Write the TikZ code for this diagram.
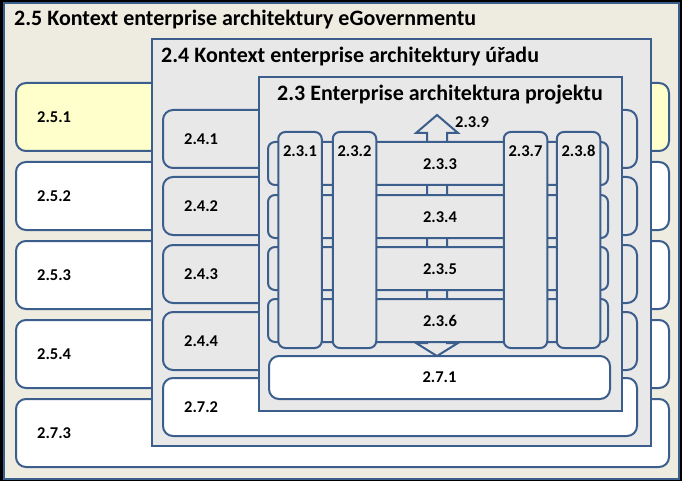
\documentclass[tikz,border=0pt]{standalone}
\usepackage{fontspec}
\setmainfont{Carlito}
\definecolor{bl}{HTML}{3B5E8C}
\definecolor{beige}{HTML}{EEECE1}
\definecolor{gr}{HTML}{E8E8E8}
\definecolor{yel}{HTML}{FFFFCC}
\begin{document}
\begin{tikzpicture}[x=1pt,y=-1pt,
  frame/.style={draw=bl,line width=2pt,inner sep=0pt,outer sep=0pt},
  rbox/.style={frame,rounded corners=10pt},
  bbox/.style={frame,rounded corners=7pt,fill=gr},
  ttl/.style={font=\bfseries\fontsize{22}{24}\selectfont,anchor=west,inner sep=0pt},
  lbl/.style={font=\bfseries\fontsize{16.5}{18}\selectfont,inner sep=0pt}]
\fill[black] (0,0) rectangle (682,481);
\useasboundingbox (0,0) rectangle (682,481);
\node[frame,fill=beige,minimum width=675pt,minimum height=476pt] (outer) at (341.5,241) {};
\node[ttl] (t25) at (14,20) {2.5 Kontext enterprise architektury eGovernmentu};
% 2.5 rows
\foreach \n/\t/\c in {r251/83/yel,r252/162/white,r253/241/white,r254/320/white,r273/399/white}
  \node[rbox,fill=\c,minimum width=653pt,minimum height=68pt] (\n) at (342.5,\t+34) {};
\foreach \n/\s in {r251/2.5.1,r252/2.5.2,r253/2.5.3,r254/2.5.4,r273/2.7.3}
  \node[lbl,anchor=west] at ([xshift=21pt]\n.west) {\s};
% 2.4 box
\node[frame,fill=gr,minimum width=499pt,minimum height=407pt] (b24) at (401.5,242.5) {};
\node[ttl] (t24) at (161,57) {2.4 Kontext enterprise architektury úřadu};
\foreach \n/\t/\c in {r241/110/gr,r242/177/gr,r243/245/gr,r244/312/gr,r272/378/white}
  \node[rbox,fill=\c,minimum width=474pt,minimum height=58pt] (\n) at (400,\t+29) {};
\foreach \n/\s in {r241/2.4.1,r242/2.4.2,r243/2.4.3,r244/2.4.4,r272/2.7.2}
  \node[lbl,anchor=west] at ([xshift=21pt]\n.west) {\s};
% 2.3 box
\node[frame,fill=gr,minimum width=363pt,minimum height=334pt] (b23) at (440.5,244) {};
\node[ttl] (t23) at (277,95) {2.3 Enterprise architektura projektu};
% double arrow 2.3.9
\draw[frame,fill=gr,line join=miter] (437,115) -- (458,133) -- (447,133) -- (447,343) -- (458,343) -- (437,356)
  -- (416,343) -- (427,343) -- (427,133) -- (416,133) -- cycle;
\coordinate (a239) at (437,115);
\node[lbl,anchor=west] at ([xshift=18pt,yshift=-7pt]a239) {2.3.9};
% bars
\foreach \n/\t/\s in {b233/142/2.3.3,b234/195/2.3.4,b235/247/2.3.5,b236/299/2.3.6}{
  \node[bbox,minimum width=340pt,minimum height=43pt] (\n) at (438,\t+21.5) {};
  \node[lbl] at (440,\t+22) {\s};}
% pillars
\foreach \n/\x/\s in {p231/300/2.3.1,p232/354.5/2.3.2,p237/525.5/2.3.7,p238/578.5/2.3.8}{
  \node[bbox,minimum width=43.5pt,minimum height=216pt] (\n) at (\x,240) {};
  \node[lbl,anchor=north] at ([yshift=-13pt]\n.north) {\s};}
% 2.7.1
\node[rbox,fill=white,minimum width=341pt,minimum height=43pt] (r271) at (439.5,377.5) {};
\node[lbl] at (r271) {2.7.1};
\end{tikzpicture}
\end{document}
